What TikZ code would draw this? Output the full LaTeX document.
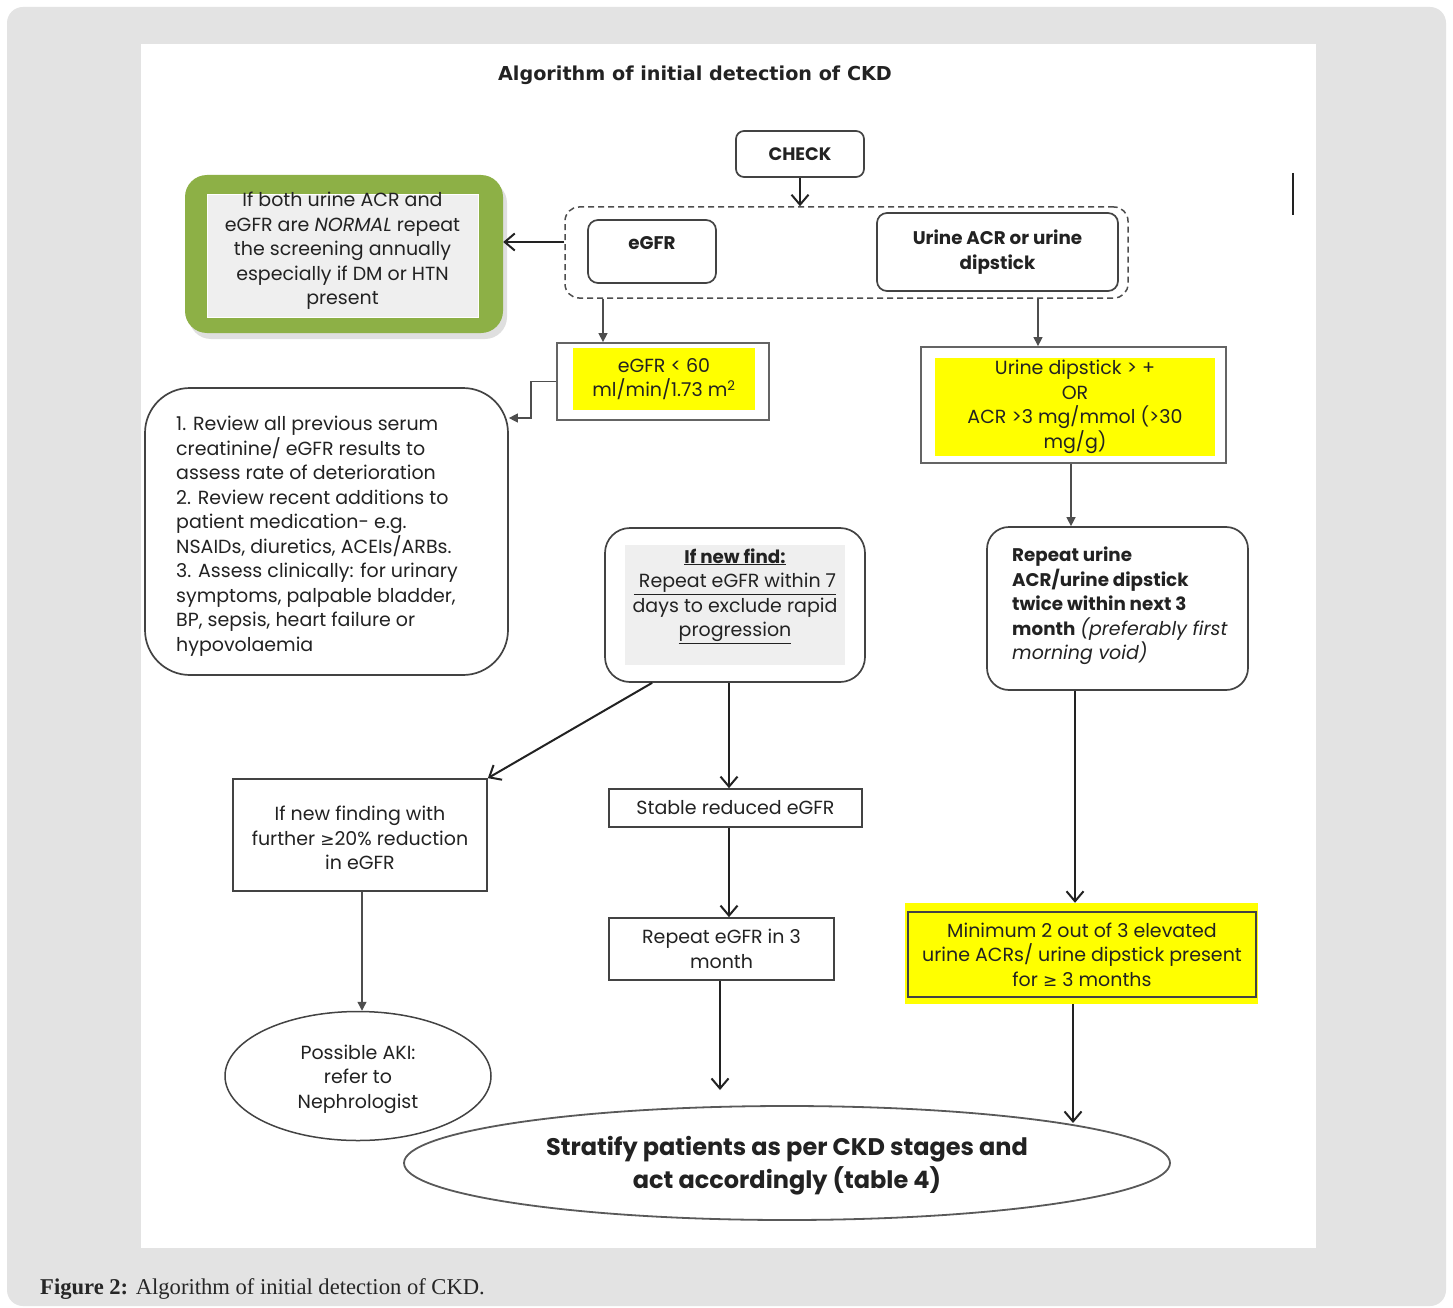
\documentclass[tikz,border=0pt]{standalone}
\usepackage{fontspec}
\setmainfont{Poppins}
\newfontfamily\titlef{DejaVu Sans}
\newfontfamily\capf{Liberation Serif}
\newfontfamily\symf{DejaVu Sans}
\usetikzlibrary{arrows.meta,shapes.geometric,shadows,calc}
\definecolor{panel}{HTML}{E3E3E3}
\definecolor{greenb}{HTML}{8DB046}
\definecolor{ink}{HTML}{222222}
\definecolor{yel}{HTML}{FFFF00}
\definecolor{innergray}{HTML}{EFEFEF}
\newcommand\bodyf{\fontsize{19}{24.5}\selectfont}
\newcommand\boldf{\bfseries\fontsize{18.3}{24.5}\selectfont}
\tikzset{
  every node/.style={inner sep=0pt, text=ink},
  bx/.style={draw=ink!85, line width=1.7pt, rectangle},
  rbx/.style={bx, rounded corners=#1},
  rbx/.default=10pt,
  ylw/.style={fill=yel, align=center, font=\bodyf},
  openarr/.style={line width=2pt, draw=ink, -{Straight Barb[length=10pt,width=17pt,line width=2pt]}},
  filarr/.style={line width=1.3pt, draw=ink!80, -{Triangle[length=9pt,width=9pt]}},
}
\begin{document}
\begin{tikzpicture}[x=1pt,y=-1pt]
\useasboundingbox (0,0) rectangle (1453,1308);
\fill[white] (0,0) rectangle (1453,1308);
\fill[panel, rounded corners=16pt] (7,7) rectangle (1446,1306);
\fill[white] (141,44) rectangle (1316,1248);

% title
\node[font=\titlef\bfseries\fontsize{19.2}{22}\selectfont] (title) at (695,75) {Algorithm of initial detection of CKD};

% CHECK
\node[rbx=8pt, minimum width=128pt, minimum height=46pt, font=\bfseries\fontsize{18}{20}\selectfont] (check) at (800,154) {CHECK};

% dashed group
\node[draw=ink!80, line width=1.5pt, dash pattern=on 6pt off 4pt, rounded corners=14pt, minimum width=563pt, minimum height=91pt] (grp) at (846.5,252.5) {};
\node[rbx=10pt, minimum width=128pt, minimum height=63pt] (egfr) at (652,251.5) {};
\node[font=\boldf] (egfrt) at (652,243) {eGFR};
\node[rbx=10pt, minimum width=241pt, minimum height=78pt, align=center, font=\boldf] (urine) at (997.5,252) {Urine ACR or urine\\dipstick};

\draw[openarr] (check.south) -- (grp.north -| check.south);

% green box
\node[fill=greenb, rounded corners=22pt, minimum width=318pt, minimum height=158pt,
      drop shadow={shadow xshift=4pt, shadow yshift=-6pt, opacity=0.25}] (green) at (344,254) {};
\node[fill=innergray, draw=white, line width=1pt, minimum width=271pt, minimum height=122pt] (greenin) at (342.5,256) {};
\node[align=center, font=\bodyf] (greent) at (342.5,251) {If both urine ACR and\\eGFR are \textit{NORMAL} repeat\\the screening annually\\especially if DM or HTN\\present};
\coordinate (gl) at (565,242);
\draw[openarr] (grp.west |- gl) -- (green.east |- gl);

% eGFR < 60
\node[draw=ink!70, line width=1.8pt, minimum width=212pt, minimum height=77pt] (lt60) at (663,381.5) {};
\node[ylw, minimum width=182pt, minimum height=62pt] (lt60t) at (664,379) {eGFR < 60\\ml/min/1.73 m\textsuperscript{2}};
\coordinate (a1) at (603,0);
\draw[filarr] (grp.south -| a1) -- (lt60.north -| a1);

% review box
\node[rbx=45pt, minimum width=363pt, minimum height=287pt] (review) at (326.5,531.5) {};
\node[anchor=north west, align=left, font=\bodyf] (reviewt) at (176,416) {1. Review all previous serum\\creatinine/ eGFR results to\\assess rate of deterioration\\2. Review recent additions to\\patient medication- e.g.\\NSAIDs, diuretics, ACEIs/ARBs.\\3. Assess clinically: for urinary\\symptoms, palpable bladder,\\BP, sepsis, heart failure or\\hypovolaemia};
\coordinate (rv) at (0,418);
\draw[filarr] (lt60.west) -- ++(-25,0) |- (review.east |- rv);

% urine dipstick
\node[draw=ink!70, line width=1.8pt, minimum width=305pt, minimum height=116pt] (dip) at (1073.5,405) {};
\node[ylw, minimum width=280pt, minimum height=98pt] (dipt) at (1075,407) {Urine dipstick > +\\OR\\ACR >3 mg/mmol (>30\\mg/g)};
\coordinate (a2) at (1038,0);
\draw[filarr] (grp.south -| a2) -- (dip.north -| a2);

% repeat urine
\node[rbx=22pt, minimum width=261pt, minimum height=163pt] (rep) at (1117.5,608.5) {};
\node[anchor=north west, align=left, font=\bodyf] (rept) at (1012,547) {{\boldf Repeat urine}\\{\boldf ACR/urine dipstick}\\{\boldf twice within next 3}\\{\boldf month} \textit{(preferably first}\\\textit{morning void)}};
\coordinate (a3) at (1071,0);
\draw[filarr] (dip.south -| a3) -- (rep.north -| a3);

% new find
\node[rbx=25pt, minimum width=260pt, minimum height=154pt] (newf) at (735,605) {};
\node[fill=innergray, minimum width=220pt, minimum height=120pt] (newfin) at (735,605) {};
\node[align=center, font=\bodyf] (newft) at (735,596) {{\boldf\underline{If new find:}}\\\underline{\ Repeat eGFR within 7}\\days to exclude rapid\\\underline{progression}};

% finding
\node[bx, minimum width=254pt, minimum height=112pt] (find) at (360,835) {};
\node[align=center, font=\bodyf] (findt) at (360,838) {If new finding with\\further {\symf\fontsize{17}{24.5}\selectfont ≥}20\% reduction\\in eGFR};
\draw[openarr] ($(newf.south west)+(48,0)$) -- (find.north east);

% stable
\node[bx, minimum width=253pt, minimum height=38pt, font=\bodyf] (stable) at (735.5,808) {Stable reduced eGFR};
\coordinate (a4) at (729,0);
\draw[openarr] (newf.south -| a4) -- (stable.north -| a4);

% repeat eGFR
\node[bx, minimum width=225pt, minimum height=62pt, align=center, font=\bodyf] (rep3) at (721.5,949) {Repeat eGFR in 3\\month};
\draw[openarr] (stable.south -| a4) -- (rep3.north -| a4);

% AKI
\node[ellipse, draw=ink!85, line width=1.5pt, minimum width=266pt, minimum height=129pt] (aki) at (358,1076) {};
\node[align=center, font=\bodyf] (akit) at (358,1079) {Possible AKI:\\refer to\\Nephrologist};
\coordinate (a5) at (362,0);
\draw[filarr] (find.south -| a5) -- (aki.north -| a5);

% minimum
\node[fill=yel, minimum width=353pt, minimum height=101pt] (minb) at (1081.5,953.5) {};
\node[bx, minimum width=348pt, minimum height=85pt, align=center, font=\bodyf] (mint) at (1082,954.5) {Minimum 2 out of 3 elevated\\urine ACRs/ urine dipstick present\\for {\symf\fontsize{17}{24.5}\selectfont ≥} 3 months};
\coordinate (a6) at (1075,0);
\draw[openarr] (rep.south -| a6) -- (minb.north -| a6);

% big ellipse
\node[ellipse, draw=ink!75, line width=1.8pt, minimum width=766pt, minimum height=114pt] (big) at (787,1163) {};
\node[align=center, font=\bfseries\fontsize{24}{33}\selectfont] (bigt) at (787,1166) {Stratify patients as per CKD stages and\\act accordingly (table 4)};
\coordinate (e1) at (720,1090);
\draw[openarr] (rep3.south -| e1) -- (e1);
\coordinate (e2) at (1073,1123);
\draw[openarr] (minb.south -| e2) -- (e2);

% stray mark
\coordinate (m1) at (1293,173);
\coordinate (m2) at (1293,215);
\draw[line width=2.4pt, ink] (m1) -- (m2);

% caption
\node[anchor=base west, font=\capf\fontsize{22.6}{26}\selectfont, text=black!85] (cap) at (40,1294) {\textbf{Figure 2:} Algorithm of initial detection of CKD.};
\end{tikzpicture}
\end{document}
